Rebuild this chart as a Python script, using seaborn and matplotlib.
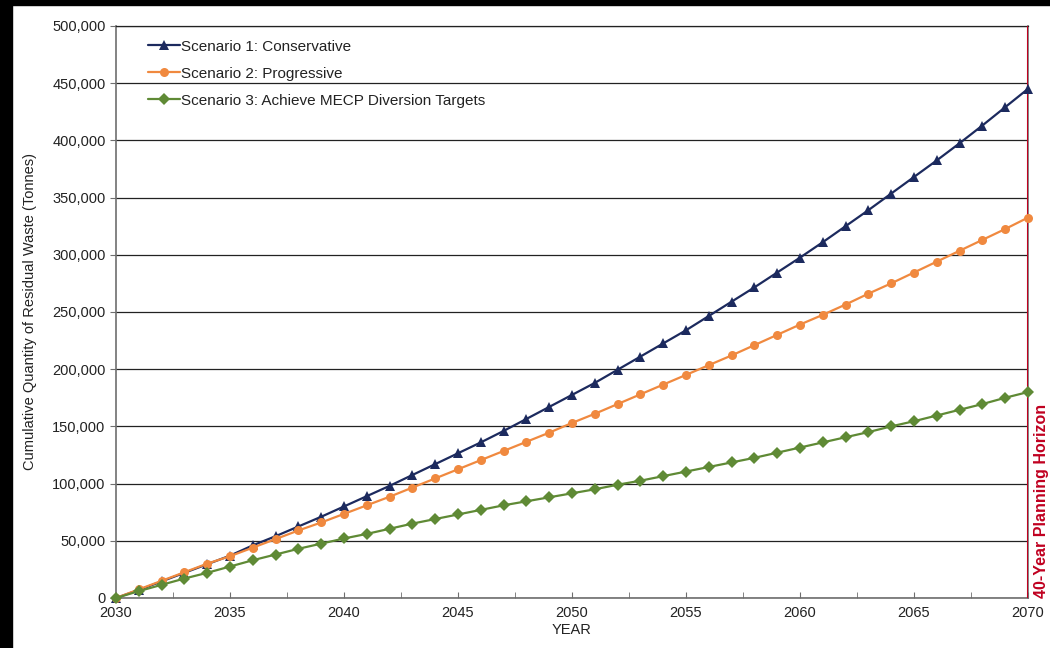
import matplotlib
matplotlib.use("Agg")
import matplotlib.pyplot as plt
import matplotlib.ticker as mticker
from matplotlib.patches import Rectangle
import pandas as pd
import seaborn as sns

years = list(range(2030, 2071))

conservative = [
    0, 7000, 14500, 22000, 29500, 37000, 46000, 54000, 62500, 71000,
    80000, 89000, 98000, 107500, 117000, 126500, 136000, 146000, 156500, 167000,
    177500, 188000, 199500, 211000, 222500, 234000, 246500, 259000, 271500, 284500,
    297500, 311000, 325000, 339000, 353500, 368000, 382500, 397500, 413000, 429000,
    445000,
]
progressive = [
    0, 7500, 15000, 22500, 30000, 36500, 44000, 51500, 59000, 66000,
    73500, 81000, 88500, 96500, 104500, 112500, 120500, 128500, 136500, 144500,
    153000, 161000, 169500, 178000, 186500, 195000, 203500, 212000, 221000, 230000,
    239000, 247500, 256500, 266000, 275000, 284500, 294000, 303500, 313000, 322500,
    332500,
]
mecp = [
    0, 6000, 11500, 17000, 22000, 27500, 33000, 38000, 43000, 47500,
    52000, 56000, 60500, 65000, 69000, 73000, 77000, 81000, 84500, 88000,
    91500, 95000, 99000, 102500, 106500, 110500, 114500, 118500, 122500, 127000,
    131500, 136000, 140500, 145000, 150000, 154500, 159500, 164500, 169500, 175000,
    180000,
]

series_names = [
    "Scenario 1: Conservative",
    "Scenario 2: Progressive",
    "Scenario 3: Achieve MECP Diversion Targets",
]
series_values = [conservative, progressive, mecp]
colors = ["#1c2a5e", "#f0893f", "#5f8a35"]
marker_shapes = ["^", "o", "D"]
horizon_year = 2070

df = pd.concat(
    [pd.DataFrame({"YEAR": years, "Tonnes": vals, "Scenario": name})
     for name, vals in zip(series_names, series_values)],
    ignore_index=True,
)

sns.set_style("white")
plt.rcParams["font.family"] = ["Liberation Sans", "DejaVu Sans"]

fig = plt.figure(figsize=(10.5, 6.48), dpi=100)
ax = fig.add_axes([0.1105, 0.0772, 0.979 - 0.1105, 0.9599 - 0.0772])

sns.lineplot(
    data=df, x="YEAR", y="Tonnes", hue="Scenario", style="Scenario",
    palette=dict(zip(series_names, colors)),
    markers=dict(zip(series_names, marker_shapes)),
    dashes=False, markersize=6.5, markeredgewidth=0, linewidth=1.6,
    ax=ax, clip_on=False, zorder=5,
)

ax.set_xlim(2030, 2070)
ax.set_ylim(0, 500000)
ax.xaxis.set_major_locator(mticker.MultipleLocator(5))
ax.xaxis.set_minor_locator(mticker.MultipleLocator(2.5))
ax.yaxis.set_major_locator(mticker.MultipleLocator(50000))
ax.yaxis.set_major_formatter(mticker.FuncFormatter(lambda v, p: f"{int(v):,}"))

ax.grid(False)
ax.yaxis.grid(True, color="#222222", linewidth=0.9)
ax.set_axisbelow(True)
for side in ["left", "bottom", "right", "top"]:
    ax.spines[side].set_color("#6e6e6e")
    ax.spines[side].set_linewidth(1.2)
ax.spines["top"].set_color("#222222")
ax.spines["top"].set_linewidth(0.9)

ax.tick_params(axis="x", which="both", direction="in", length=4,
               labelsize=10.5, pad=6, bottom=True)
ax.tick_params(axis="y", direction="out", length=4, labelsize=10.5, left=True)
ax.tick_params(axis="both", which="both", color="#6e6e6e", labelcolor="#222222")

ax.set_xlabel("YEAR", fontsize=10.5, color="#222222", labelpad=2)
ax.set_ylabel("Cumulative Quantity of Residual Waste (Tonnes)", fontsize=10.5,
              color="#222222", labelpad=11)

ax.axvline(horizon_year, color="#c00020", linewidth=1.5, zorder=4)
ax.annotate("40-Year Planning Horizon", xy=(horizon_year, 0),
            xytext=(4.5, 0), textcoords="offset points", rotation=90,
            color="#c00020", fontsize=11.5, fontweight="bold",
            ha="left", va="bottom", annotation_clip=False)

leg = ax.legend(loc="upper left", bbox_to_anchor=(0.02, 1.0), frameon=False,
                fontsize=11, handlelength=2.1, handletextpad=0.05,
                labelspacing=0.85, title=None)
for txt in leg.get_texts():
    txt.set_color("#222222")

# black frame on the left and top edges of the image
fig.add_artist(Rectangle((0, 0), 0.011, 1, transform=fig.transFigure,
                         color="black", zorder=10))
fig.add_artist(Rectangle((0, 0.992), 1, 0.008, transform=fig.transFigure,
                         color="black", zorder=10))

fig.savefig("out.png", dpi=100, facecolor="white")
